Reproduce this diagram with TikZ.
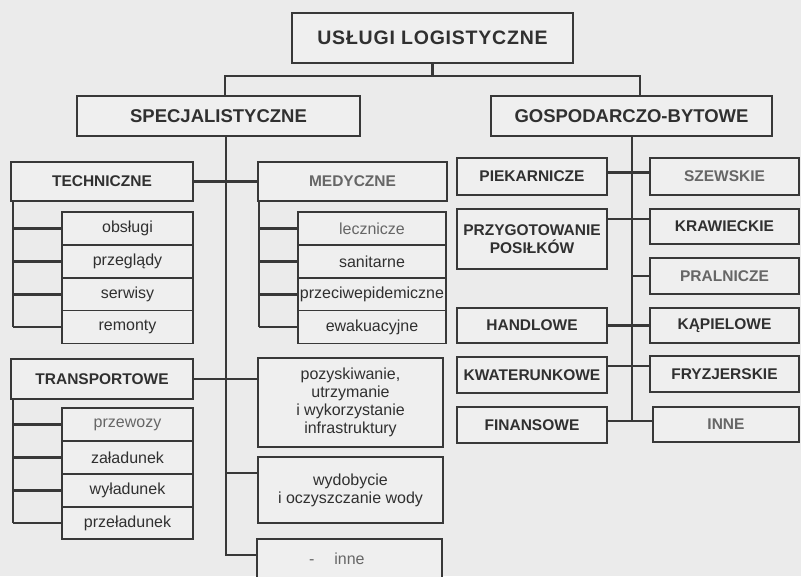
\documentclass[tikz,border=0pt]{standalone}
\usepackage{fontspec}
\setmainfont{Liberation Sans}
\definecolor{bgc}{HTML}{EBEBEB}
\definecolor{boxc}{HTML}{EFEFEF}
\definecolor{linec}{HTML}{383838}
\definecolor{txtc}{HTML}{303030}
\definecolor{softc}{HTML}{666666}
\begin{document}
\begin{tikzpicture}[x=1pt,y=-1pt,
  box/.style={draw=linec, line width=2pt, fill=boxc, inner sep=1pt, align=center, text=txtc},
  itembox/.style={box, line width=1.6pt, minimum height=33pt, font=\fontsize{16}{18}\selectfont},
  captext/.style={font=\bfseries\fontsize{15.5}{18}\selectfont},
  headtext/.style={font=\bfseries\fontsize{18.5}{20}\selectfont},
  lowtext/.style={font=\fontsize{16}{18.2}\selectfont},
  softtext/.style={text=softc},
  link/.style={draw=linec, line width=2.3pt}
]
\fill[bgc] (0,0) rectangle (801,576);
\useasboundingbox (0,0) rectangle (801,576);
\clip (0,0) rectangle (801,576);

% --- top levels
\node[box, font=\bfseries\fontsize{19.5}{21}\selectfont\addfontfeature{LetterSpace=4},
      minimum width=281pt, minimum height=50pt] (top) at (432.5,38) {USŁUGI LOGISTYCZNE};
\node[box, headtext, minimum width=283pt, minimum height=40pt] (specj) at (218.5,116) {SPECJALISTYCZNE};
\node[box, headtext, minimum width=281pt, minimum height=40pt] (gosp) at (631.5,116) {GOSPODARCZO-BYTOWE};

% --- specialist branch
\node[box, captext, minimum width=182pt, minimum height=39pt] (tech) at (102,181.5) {TECHNICZNE};
\node[box, captext, softtext, minimum width=189pt, minimum height=39pt] (med) at (352.5,181.5) {MEDYCZNE};

\node[itembox, minimum width=131pt] (t1) at (127.5,228.5) {obsługi};
\node[itembox, minimum width=131pt] (t2) at (127.5,261.5) {przeglądy};
\node[itembox, minimum width=131pt] (t3) at (127.5,294.5) {serwisy};
\node[itembox, minimum width=131pt] (t4) at (127.5,327) {remonty};

\node[itembox, softtext, minimum width=148pt] (m1) at (372,228.5) {lecznicze};
\node[itembox, minimum width=148pt] (m2) at (372,261.5) {sanitarne};
\node[itembox, minimum width=148pt] (m3) at (372,294.5) {przeciwepidemiczne};
\node[itembox, minimum width=148pt] (m4) at (372,327) {ewakuacyjne};

\node[box, captext, minimum width=182pt, minimum height=40pt] (transp) at (102,379) {TRANSPORTOWE};
\node[itembox, softtext, minimum width=131pt] (r1) at (127.5,424.5) {przewozy};
\node[itembox, minimum width=131pt] (r2) at (127.5,457.5) {załadunek};
\node[itembox, minimum width=131pt] (r3) at (127.5,490.5) {wyładunek};
\node[itembox, minimum width=131pt, minimum height=32pt] (r4) at (127.5,523) {przeładunek};

\node[box, lowtext, minimum width=185pt, minimum height=89pt] (pozysk) at (350.5,402.5)
  {pozyskiwanie,\\utrzymanie\\i wykorzystanie\\infrastruktury};
\node[box, lowtext, minimum width=185pt, minimum height=66pt] (wydob) at (350.5,490)
  {wydobycie\\i oczyszczanie wody};
\node[box, lowtext, softtext, minimum width=185pt, minimum height=40pt] (inne) at (349.5,558.5)
  {\llap{-\hspace{20pt}}inne};

% --- household branch
\node[box, captext, minimum width=150pt, minimum height=37pt] (piek) at (532,176.5) {PIEKARNICZE};
\node[box, captext, minimum width=150pt, minimum height=60pt] (przyg) at (532,239) {PRZYGOTOWANIE\\POSIŁKÓW};
\node[box, captext, minimum width=150pt, minimum height=35pt] (handl) at (532,325.5) {HANDLOWE};
\node[box, captext, minimum width=150pt, minimum height=36pt] (kwat) at (532,375) {KWATERUNKOWE};
\node[box, captext, minimum width=150pt, minimum height=36pt] (finans) at (532,425) {FINANSOWE};

\node[box, captext, softtext, minimum width=149pt, minimum height=37pt] (szew) at (724.5,176.5) {SZEWSKIE};
\node[box, captext, minimum width=149pt, minimum height=35pt] (kraw) at (724.5,226.5) {KRAWIECKIE};
\node[box, captext, softtext, minimum width=149pt, minimum height=36pt] (praln) at (724.5,276) {PRALNICZE};
\node[box, captext, minimum width=149pt, minimum height=35pt] (kapiel) at (724.5,325.5) {KĄPIELOWE};
\node[box, captext, minimum width=149pt, minimum height=36pt] (fryz) at (724.5,374) {FRYZJERSKIE};
\node[box, captext, softtext, minimum width=146pt, minimum height=35pt] (inneR) at (726,424.5) {INNE};

% --- connectors: top bus
\coordinate (busL) at (225,76);
\coordinate (busR) at (640,76);
\draw[link] (top.south) -- (top.south |- busL);
\draw[link] (specj.north -| busL) -- (busL) -- (busR) -- (gosp.north -| busR);

% --- specialist spine
\coordinate (sL) at (226,555);
\draw[link] (specj.south -| sL) -- (sL) -- (sL -| inne.west);
\draw[link] (tech.east) -- (med.west);
\draw[link] (transp.east) -- (transp.east -| pozysk.west);
\draw[link] (wydob.north west) ++(0,17) coordinate (wj) -- (wj -| sL);

% --- sub-item brackets
\coordinate (tb) at (13,0);
\coordinate (mb) at (259,0);
\draw[link] (tech.south -| tb) -- (tb |- t4.west);
\draw[link] (med.south -| mb) -- (mb |- m4.west);
\draw[link] (transp.south -| tb) -- (tb |- r4.west);
\foreach \i in {1,...,4} {
  \draw[link] (tb |- t\i.west) -- (t\i.west);
  \draw[link] (mb |- m\i.west) -- (m\i.west);
  \draw[link] (tb |- r\i.west) -- (r\i.west);
}

% --- household spine
\coordinate (sR) at (632,421);
\draw[link] (gosp.south -| sR) -- (sR);
\draw[link] (piek.east) ++(0,-4) coordinate (pj) -- (pj -| szew.west);
\draw[link] (przyg.north east) ++(0,11) coordinate (qj) -- (qj -| kraw.west);
\draw[link] (praln.west -| sR) -- (praln.west);
\draw[link] (handl.east) -- (handl.east -| kapiel.west);
\draw[link] (kwat.north east) ++(0,10) coordinate (kj) -- (kj -| fryz.west);
\draw[link] (finans.east |- sR) -- (sR -| inneR.west);
\end{tikzpicture}
\end{document}
